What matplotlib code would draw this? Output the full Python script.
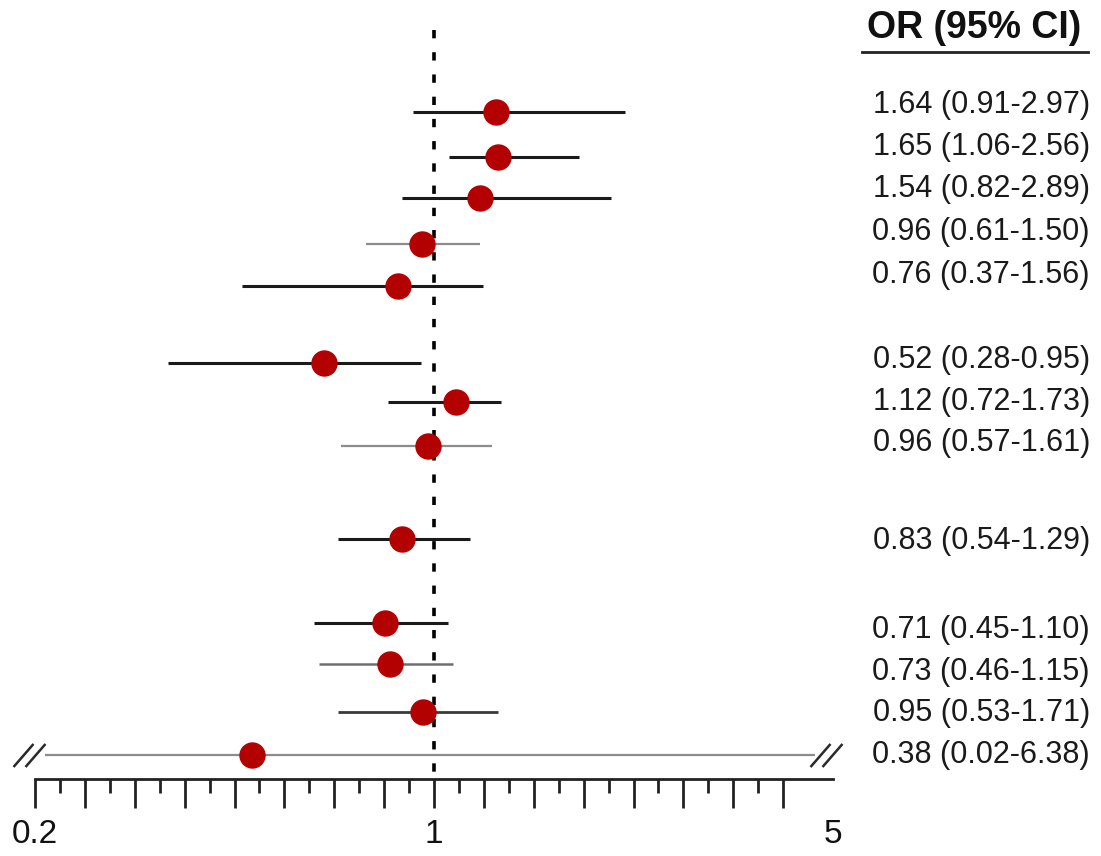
import numpy as np
import matplotlib
matplotlib.use("Agg")
import matplotlib.pyplot as plt
from matplotlib.path import Path
from matplotlib.lines import Line2D
from matplotlib.ticker import FixedLocator, FixedFormatter, NullFormatter

plt.rcParams['font.family'] = ['Liberation Sans', 'DejaVu Sans']
plt.rcParams['lines.scale_dashes'] = False

# ---------------- data ----------------
or_labels = [
    "1.64 (0.91-2.97)", "1.65 (1.06-2.56)", "1.54 (0.82-2.89)",
    "0.96 (0.61-1.50)", "0.76 (0.37-1.56)",
    "0.52 (0.28-0.95)", "1.12 (0.72-1.73)", "0.96 (0.57-1.61)",
    "0.83 (0.54-1.29)",
    "0.71 (0.45-1.10)", "0.73 (0.46-1.15)", "0.95 (0.53-1.71)", "0.38 (0.02-6.38)",
]
point_est = [1.284, 1.295, 1.204, 0.953, 0.865, 0.642, 1.093, 0.976, 0.879, 0.821, 0.838, 0.957, 0.480]
ci_low    = [0.919, 1.062, 0.879, 0.760, 0.461, 0.342, 0.831, 0.688, 0.679, 0.616, 0.629, 0.679, 0.02]
ci_high   = [2.160, 1.795, 2.042, 1.204, 1.218, 0.949, 1.310, 1.264, 1.156, 1.058, 1.080, 1.295, 6.38]
tick_labels = {0.2: "0.2", 1.0: "1", 5.0: "5"}

# ---------------- layout / style ----------------
row_y  = [112, 157, 198, 244, 286, 363, 402, 446, 539, 623, 664, 712, 755]
text_y = [103, 145, 187, 230, 273, 358, 400, 441, 539, 628, 670, 711, 753]
line_col = ['#1a1a1a', '#1a1a1a', '#1a1a1a', '#8c8c8c', '#1a1a1a', '#1a1a1a', '#1a1a1a',
            '#8c8c8c', '#1a1a1a', '#1a1a1a', '#6e6e6e', '#3a3a3a', '#8c8c8c']
line_w   = [2.2, 2.2, 2.2, 1.6, 2.2, 2.2, 2.2, 1.6, 2.2, 2.2, 1.8, 2.0, 1.6]
marker_color = '#b30000'

W, H = 1101, 856
fig = plt.figure(figsize=(W / 100, H / 100), dpi=100)
x0_px, x1_px = 35, 833
y_top_px, y_axis_px = 20, 779
ax = fig.add_axes([x0_px / W, (H - y_axis_px) / H, (x1_px - x0_px) / W, (y_axis_px - y_top_px) / H])
ax.set_xscale('log')
xmin, xmax = 0.2, 5.0
ax.set_xlim(xmin, xmax)
ax.set_ylim(y_axis_px, y_top_px)
ax.patch.set_visible(False)

ppd = (x1_px - x0_px) / np.log10(xmax / xmin)   # pixels per decade


def fac(px):
    return 10 ** (px / ppd)


# reference line at OR = 1
ax.plot([1, 1], [30, y_axis_px], color='black', lw=2.6, dashes=(6, 10),
        dash_capstyle='butt', zorder=1)

# break marker "//"
slash = Path([(-1, -0.72), (0.25, 0.72), (-0.25, -0.72), (1, 0.72)],
             [Path.MOVETO, Path.LINETO, Path.MOVETO, Path.LINETO])

left_clip = xmin * fac(10)
right_clip = xmax / fac(18)
for i in range(len(point_est)):
    lo, hi = ci_low[i], ci_high[i]
    lo_d = max(lo, left_clip) if lo < xmin else lo
    hi_d = min(hi, right_clip) if hi > xmax else hi
    ax.plot([lo_d, hi_d], [row_y[i], row_y[i]], color=line_col[i], lw=line_w[i],
            solid_capstyle='butt', zorder=2)
    if lo < xmin:
        ax.plot([xmin / fac(6)], [row_y[i]], marker=slash, ms=23, mew=1.8,
                color='#2a2a2a', ls='none', clip_on=False, zorder=2)
    if hi > xmax:
        ax.plot([xmax / fac(7)], [row_y[i]], marker=slash, ms=23, mew=1.8,
                color='#2a2a2a', ls='none', clip_on=False, zorder=2)

ax.plot(point_est, row_y, ls='none', marker='o', ms=18, color=marker_color,
        mec=marker_color, zorder=3)

# axis ticks: evenly spaced on the log scale
k = np.arange(-16, 17)
tvals = xmax ** (k / 16.0)
major_vals = [v for kk, v in zip(k, tvals) if kk % 2 == 0]
minor_vals = [v for kk, v in zip(k, tvals) if kk % 2 != 0 and kk != 15]
major_labels = []
for v in major_vals:
    lab = ""
    for key, s in tick_labels.items():
        if abs(v - key) < 1e-9:
            lab = s
    major_labels.append(lab)
ax.xaxis.set_major_locator(FixedLocator(major_vals))
ax.xaxis.set_major_formatter(FixedFormatter(major_labels))
ax.xaxis.set_minor_locator(FixedLocator(minor_vals))
ax.xaxis.set_minor_formatter(NullFormatter())
ax.tick_params(axis='x', which='major', length=21, width=2, pad=8, labelsize=24,
               color='#222222', labelcolor='#111111')
ax.tick_params(axis='x', which='minor', length=10, width=2, color='#222222')
ax.xaxis.get_major_ticks()[-1].tick1line.set_visible(False)

ax.set_yticks([])
for s in ['left', 'right', 'top']:
    ax.spines[s].set_visible(False)
ax.spines['bottom'].set_linewidth(2)
ax.spines['bottom'].set_color('#222222')

# header
fig.text(974 / W, 1 - 38 / H, "OR (95% CI)", ha='center', va='baseline',
         fontsize=27, fontweight='bold', color='#111111')
fig.add_artist(Line2D([862 / W, 1088 / W], [1 - 52 / H, 1 - 52 / H], lw=2, color='#222222'))

# OR labels
for lab, ty in zip(or_labels, text_y):
    fig.text(1090 / W, 1 - (ty + 10) / H, lab, ha='right', va='baseline',
             fontsize=22, color='#1a1a1a')

fig.savefig("out.png", dpi=100)
